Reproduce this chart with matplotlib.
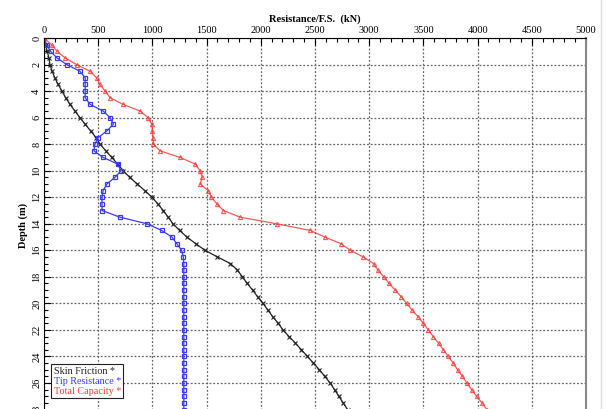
import numpy as np
import matplotlib.pyplot as plt
from matplotlib.ticker import MultipleLocator
from matplotlib.lines import Line2D

plt.rcParams['font.family'] = ['Liberation Serif', 'DejaVu Serif']

# depth (m), every 0.5 m
depth = [0.0, 0.5, 1.0, 1.5, 2.0, 2.5, 3.0, 3.5, 4.0, 4.5, 5.0, 5.5, 6.0, 6.5,
         7.0, 7.5, 8.0, 8.5, 9.0, 9.5, 10.0, 10.5, 11.0, 11.5, 12.0, 12.5, 13.0,
         13.5, 14.0, 14.5, 15.0, 15.5, 16.0, 16.5, 17.0, 17.5, 18.0, 18.5, 19.0,
         19.5, 20.0, 20.5, 21.0, 21.5, 22.0, 22.5, 23.0, 23.5, 24.0, 24.5, 25.0,
         25.5, 26.0, 26.5, 27.0, 27.5, 28.0]

skin_friction = [0, 15, 30, 45, 55, 75, 100, 130, 166, 200, 240, 285, 332, 380,
                 430, 480, 517, 570, 625, 680, 730, 790, 860, 930, 996, 1050,
                 1100, 1145, 1190, 1250, 1318, 1400, 1485, 1600, 1720, 1785,
                 1830, 1875, 1925, 1970, 2020, 2065, 2110, 2160, 2205, 2260,
                 2320, 2375, 2430, 2485, 2540, 2590, 2640, 2680, 2720, 2760, 2800]

tip_resistance = [0, 25, 60, 120, 210, 330, 380, 380, 380, 380, 425, 545, 610,
                  640, 580, 500, 470, 460, 545, 680, 710, 655, 580, 545, 535,
                  535, 535, 700, 950, 1085, 1180, 1225, 1270, 1285, 1290, 1290,
                  1290, 1290, 1290, 1290, 1290, 1290, 1290, 1290, 1290, 1290,
                  1290, 1290, 1290, 1290, 1290, 1290, 1290, 1290, 1290, 1290, 1290]

total_capacity = [0, 70, 120, 195, 300, 425, 485, 515, 565, 610, 730, 885, 960,
                  995, 1000, 1005, 1010, 1070, 1255, 1395, 1440, 1460, 1440,
                  1515, 1545, 1595, 1655, 1810, 2145, 2455, 2590, 2740, 2825,
                  2945, 3040, 3080, 3135, 3185, 3240, 3295, 3345, 3395, 3450,
                  3500, 3545, 3590, 3640, 3685, 3730, 3775, 3815, 3860, 3900,
                  3945, 3990, 4040, 4085]

labels = ['Skin Friction *', 'Tip Resistance *', 'Total Capacity *']
colors = ['#222222', '#3a3aff', '#ff3b3b']

fig = plt.figure(figsize=(6.07, 4.09), dpi=100)
ax = fig.add_axes([44 / 607, -0.011, 542 / 607, 0.918])

ax.plot(skin_friction, depth, color=colors[0], lw=0.9, marker='x', ms=2.2, mew=0.8)
ax.plot(tip_resistance, depth, color=colors[1], lw=0.9, marker='s', ms=3,
        mfc='none', mew=0.9)
ax.plot(total_capacity, depth, color=colors[2], lw=0.9, marker='^', ms=3,
        mfc='none', mew=0.8, alpha=0.85)

ax.set_xlim(0, 5000)
ax.set_ylim(28.3, 0)
ax.xaxis.tick_top()
ax.xaxis.set_label_position('top')
ax.xaxis.set_major_locator(MultipleLocator(500))
ax.xaxis.set_minor_locator(MultipleLocator(100))
ax.yaxis.set_major_locator(MultipleLocator(2))
ax.yaxis.set_minor_locator(MultipleLocator(0.5))
ax.tick_params(which='both', direction='in', labelsize=7.5, pad=2,
               top=True, bottom=False, right=False, left=True)
ax.tick_params(which='major', length=5, width=0.8)
ax.tick_params(which='minor', length=3, width=0.8)
for lab in ax.get_yticklabels():
    lab.set_rotation(90)
    lab.set_va('center')

ax.grid(True, which='major', ls=(0, (1.5, 1.5)), color='#666666', lw=0.9)

ax.set_xlabel('Resistance/F.S.  (kN)', fontsize=7.5, fontweight='bold', labelpad=3)
ax.set_ylabel('Depth (m)', fontsize=7.5, fontweight='bold', labelpad=3)

ax.spines['right'].set_color('#888888')
ax.spines['right'].set_linewidth(1.5)
ax.spines['bottom'].set_visible(False)

handles = [Line2D([], [], ls='none') for _ in labels]
leg = ax.legend(handles, labels, loc='lower left', bbox_to_anchor=(0.013, 0.04),
                borderaxespad=0, handlelength=0, handletextpad=0,
                labelcolor=colors, fontsize=7.3, frameon=True, fancybox=False,
                edgecolor='#222222', borderpad=0.25, labelspacing=0.1,
                framealpha=1)
leg.get_frame().set_linewidth(0.8)

fig.add_artist(Line2D([601 / 607, 601 / 607], [0, 1], color='#dddddd', lw=1))

fig.savefig('out.png', dpi=100)
